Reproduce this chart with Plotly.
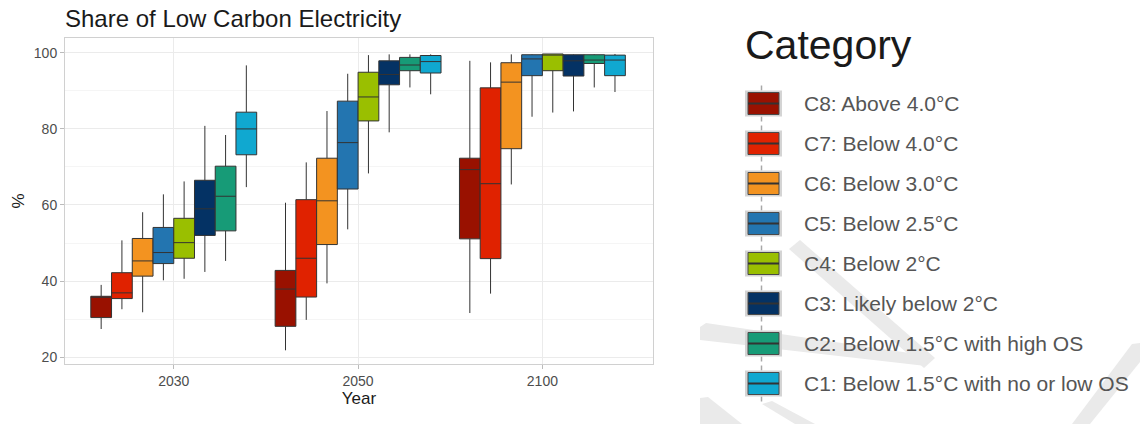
import plotly.graph_objects as go

years = ["2030", "2050", "2100"]
categories = [
    "C8: Above 4.0°C",
    "C7: Below 4.0°C",
    "C6: Below 3.0°C",
    "C5: Below 2.5°C",
    "C4: Below 2°C",
    "C3: Likely below 2°C",
    "C2: Below 1.5°C with high OS",
    "C1: Below 1.5°C with no or low OS",
]
colors = ["#991100", "#E02200", "#F39320", "#2375B0", "#9ABF00", "#043264", "#179B77", "#10A8D0"]

# per category: values for [2030, 2050, 2100]
lower = [
    [27.4, 21.8, 31.6],
    [32.6, 29.8, 36.7],
    [31.8, 39.4, 65.4],
    [40.2, 53.6, 83.2],
    [40.6, 68.3, 84.3],
    [42.4, 79.1, 84.6],
    [45.3, 90.9, 90.9],
    [64.7, 89.1, 89.7],
]
q1 = [
    [30.4, 28.1, 51.1],
    [35.4, 35.8, 45.9],
    [41.3, 49.6, 74.8],
    [44.6, 64.2, 94.0],
    [46.0, 82.1, 95.3],
    [52.0, 91.6, 93.9],
    [53.2, 95.3, 97.2],
    [73.2, 94.7, 94.0],
]
median = [
    [36.0, 37.9, 69.3],
    [36.9, 46.0, 65.6],
    [45.3, 61.1, 92.3],
    [47.5, 76.4, 98.4],
    [50.1, 88.4, 99.4],
    [59.0, 94.3, 97.9],
    [62.3, 96.8, 98.1],
    [80.0, 97.7, 98.1],
]
q3 = [
    [36.0, 42.8, 72.3],
    [42.2, 61.4, 90.8],
    [51.2, 72.3, 97.4],
    [54.1, 87.3, 99.5],
    [56.5, 94.9, 99.7],
    [66.5, 97.9, 99.5],
    [70.2, 98.8, 99.5],
    [84.4, 99.3, 99.4],
]
upper = [
    [39.0, 60.6, 97.9],
    [50.7, 71.2, 97.5],
    [58.1, 84.7, 99.6],
    [62.8, 94.5, 99.6],
    [66.2, 99.4, 99.7],
    [80.8, 99.6, 99.6],
    [78.4, 99.6, 99.6],
    [96.7, 99.6, 99.7],
]
y_ticks = [20, 40, 60, 80, 100]

FONT = "Liberation Sans, Arial, sans-serif"
W, H = 1140, 424
L, R, T, B = 65, 653, 38, 364

fig = go.Figure()
for i, cat in enumerate(categories):
    fig.add_trace(go.Box(
        name=cat,
        x=years,
        q1=q1[i], median=median[i], q3=q3[i],
        lowerfence=lower[i], upperfence=upper[i],
        boxpoints=False,
        fillcolor=colors[i],
        line=dict(color="#333333", width=1),
        whiskerwidth=0,
        showlegend=False,
        hoverinfo="skip",
    ))


def px(xp, yp):
    """pixel position -> paper coordinates"""
    return (xp - L) / (R - L), (B - yp) / (B - T)


# faint watermark decoration
polys = [
    [(789, 249), (800, 240), (935, 358), (924, 368)],
    [(700, 327), (706, 323), (930, 356), (926, 366), (700, 340)],
    [(700, 398), (708, 397), (742, 424), (700, 424)],
    [(762, 404), (772, 401), (815, 424), (795, 424)],
    [(1132, 344), (1140, 343), (1140, 362), (1090, 424), (1072, 424)],
]
for poly in polys:
    pts = [px(a, b) for a, b in poly]
    path = "M " + " L ".join(f"{x:.4f},{y:.4f}" for x, y in pts) + " Z"
    fig.add_shape(type="path", path=path, xref="paper", yref="paper",
                  fillcolor="#EAEAEA", line=dict(width=0), layer="below")


def rect(x0, y0, x1, y1, **kw):
    a, b = px(x0, y0)
    c, d = px(x1, y1)
    fig.add_shape(type="rect", x0=a, y0=b, x1=c, y1=d, xref="paper", yref="paper", **kw)


def seg(x0, y0, x1, y1, **kw):
    a, b = px(x0, y0)
    c, d = px(x1, y1)
    fig.add_shape(type="line", x0=a, y0=b, x1=c, y1=d, xref="paper", yref="paper", **kw)


# legend (ggplot-style keys)
tx, ty = px(743, 45)
fig.add_annotation(text="Category", x=tx, y=ty, xref="paper", yref="paper",
                   xanchor="left", yanchor="middle", showarrow=False,
                   font=dict(family=FONT, size=41, color="#1A1A1A"))
for i, cat in enumerate(categories):
    cy = 103.5 + 40 * i
    seg(761.5, cy - 18, 761.5, cy - 13, line=dict(color="#A8A8A8", width=1.5))
    seg(761.5, cy + 13, 761.5, cy + 18, line=dict(color="#A8A8A8", width=1.5))
    rect(745, cy - 13, 782, cy + 13, fillcolor="#D4D4D4", line=dict(width=0))
    rect(748, cy - 11, 779, cy + 11, fillcolor=colors[i], line=dict(color="#4A4A4A", width=1))
    seg(748, cy, 779, cy, line=dict(color="#333333", width=2))
    ax, ay = px(802, cy)
    fig.add_annotation(text=cat, x=ax, y=ay, xref="paper", yref="paper",
                       xanchor="left", yanchor="middle", showarrow=False,
                       font=dict(family=FONT, size=21, color="#555555"))

fig.update_layout(
    width=W, height=H,
    margin=dict(l=L, r=W - R, t=T, b=H - B),
    paper_bgcolor="white", plot_bgcolor="white",
    boxmode="group", boxgap=0.1, boxgroupgap=0,
    showlegend=False,
    font=dict(family=FONT, color="#4D4D4D", size=14),
    title=dict(text="Share of Low Carbon Electricity", x=65 / W, xref="container",
               xanchor="left", y=1 - 19 / H, yref="container", yanchor="middle",
               font=dict(family=FONT, size=24, color="#1A1A1A")),
    xaxis=dict(
        type="category", categoryorder="array", categoryarray=years,
        range=[-0.59, 2.6],
        title=dict(text="Year", font=dict(family=FONT, size=17, color="#1A1A1A"), standoff=2),
        showgrid=True, gridcolor="#EBEBEB", gridwidth=1,
        showline=True, mirror=True, linecolor="#D0D0D0", linewidth=1,
        ticks="outside", ticklen=4, tickcolor="#BBBBBB",
        tickfont=dict(family=FONT, size=14, color="#4D4D4D"),
        zeroline=False,
    ),
    yaxis=dict(
        range=[18.2, 103.9], tickvals=y_ticks,
        title=dict(text="%", font=dict(family=FONT, size=17, color="#1A1A1A"), standoff=4),
        showgrid=True, gridcolor="#EBEBEB", gridwidth=1,
        minor=dict(dtick=10, tick0=0, showgrid=True, gridcolor="#F5F5F5", gridwidth=1),
        showline=True, mirror=True, linecolor="#D0D0D0", linewidth=1,
        ticks="outside", ticklen=4, tickcolor="#BBBBBB",
        tickfont=dict(family=FONT, size=14, color="#4D4D4D"),
        zeroline=False,
    ),
)

fig.write_html("out.html", config={"displayModeBar": False},
               post_script="document.body.style.margin='0';")
